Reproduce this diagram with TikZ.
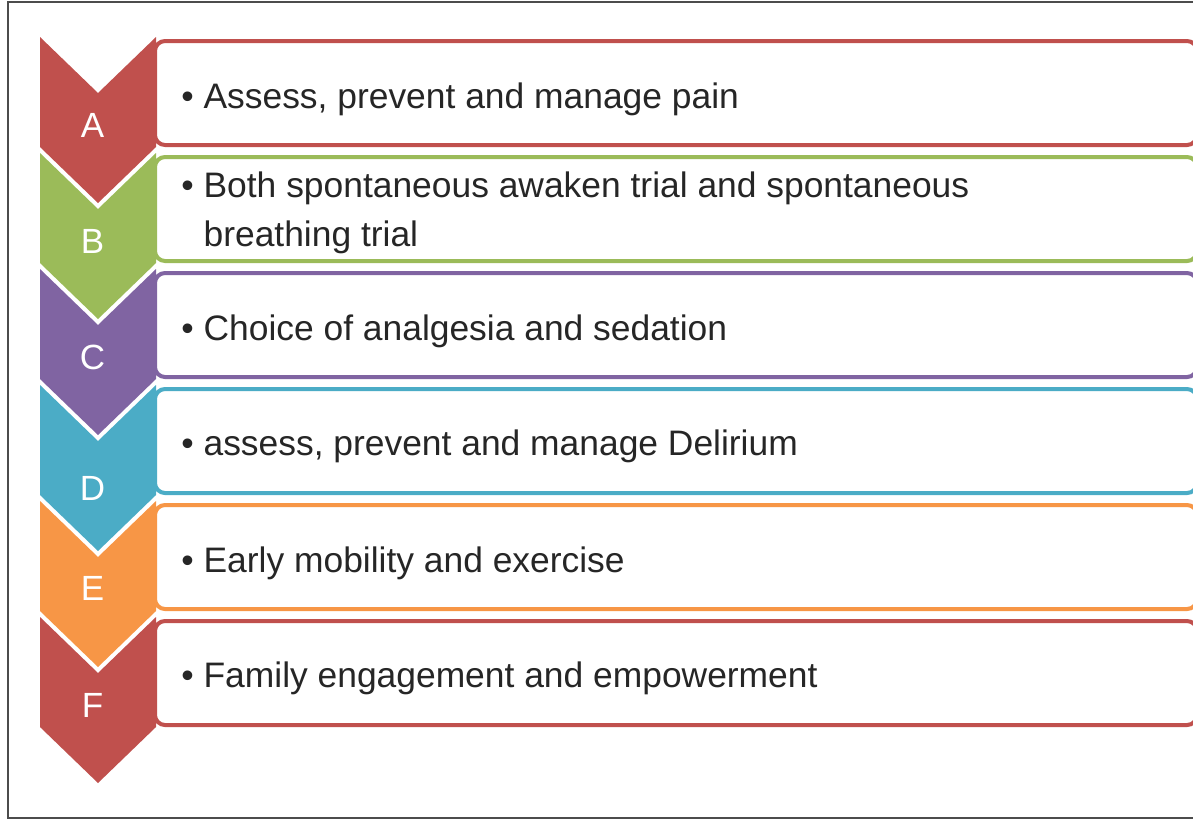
\documentclass[tikz,border=0pt]{standalone}
\usepackage{fontspec}
\setmainfont{Liberation Sans}
\definecolor{stepred}{HTML}{C0504D}
\definecolor{stepgreen}{HTML}{9BBB59}
\definecolor{steppurple}{HTML}{8064A2}
\definecolor{stepteal}{HTML}{4BACC6}
\definecolor{steporange}{HTML}{F79646}

\begin{document}
\begin{tikzpicture}[x=.5pt,y=-.5pt,
  bar/.style={line width=2pt,rounded corners=5pt,fill=white},
  letter/.style={text=white,anchor=base,inner sep=0pt,font=\fontsize{17.5}{21}\selectfont},
  item/.style={text=black!85,anchor=base west,inner sep=0pt,align=left,font=\fontsize{17.7}{24.5}\selectfont}]
\useasboundingbox (0,0) rectangle (1193,821);
\clip (0,0) rectangle (1193,821);
\draw[black!70,line width=.75pt] (1210,2) -- (8,2) -- (8,818) -- (1210,818);
\fill[stepred] (40,37) -- (98,93) -- (156,37) -- (156,147) -- (98,203) -- (40,147) -- cycle;
\fill[stepgreen,shift={(0,116)}] (40,37) -- (98,93) -- (156,37) -- (156,147) -- (98,203) -- (40,147) -- cycle;
\fill[steppurple,shift={(0,232)}] (40,37) -- (98,93) -- (156,37) -- (156,147) -- (98,203) -- (40,147) -- cycle;
\fill[stepteal,shift={(0,348)}] (40,37) -- (98,93) -- (156,37) -- (156,147) -- (98,203) -- (40,147) -- cycle;
\fill[steporange,shift={(0,464)}] (40,37) -- (98,93) -- (156,37) -- (156,147) -- (98,203) -- (40,147) -- cycle;
\fill[stepred,shift={(0,580)}] (40,37) -- (98,93) -- (156,37) -- (156,147) -- (98,203) -- (40,147) -- cycle;
\draw[bar,draw=stepred] (155,41) rectangle (1197,145);
\draw[bar,draw=stepgreen] (155,157) rectangle (1197,261);
\draw[bar,draw=steppurple] (155,273) rectangle (1197,377);
\draw[bar,draw=stepteal] (155,389) rectangle (1197,493);
\draw[bar,draw=steporange] (155,505) rectangle (1197,609);
\draw[bar,draw=stepred] (155,621) rectangle (1197,725);
\node[letter] (la) at (92.5,137) {A}; \node[letter] (lb) at (92.5,253) {B}; \node[letter] (lc) at (92.5,369) {C};
\node[letter] (ld) at (92.5,500) {D}; \node[letter] (le) at (92.5,600) {E}; \node[letter] (lf) at (92.5,717) {F};
\node[item] (pain) at (181,108) {• Assess, prevent and manage pain};
\node[item,anchor=north west] (trials) at (181,171) {• Both spontaneous awaken trial and spontaneous\\\hphantom{• }breathing trial};
\node[item] (sedation) at (181,340) {• Choice of analgesia and sedation};
\node[item] (delirium) at (181,455) {• assess, prevent and manage Delirium};
\node[item] (mobility) at (181,572) {• Early mobility and exercise};
\node[item] (family) at (181,687) {• Family engagement and empowerment};
\end{tikzpicture}
\end{document}
